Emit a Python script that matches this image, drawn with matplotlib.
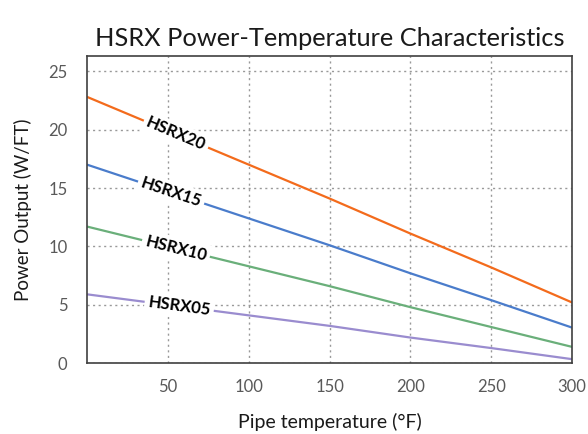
import numpy as np
import matplotlib
matplotlib.use("Agg")
import matplotlib.pyplot as plt

plt.rcParams['font.family'] = ['Lato', 'DejaVu Sans']

# pipe temperature (F) and power output (W/FT)
temps = [0, 50, 100, 150, 200, 250, 300]
hsrx20 = [22.8, 19.9, 17.0, 14.1, 11.1, 8.2, 5.2]
hsrx15 = [17.0, 14.7, 12.4, 10.1, 7.7, 5.4, 3.05]
hsrx10 = [11.7, 10.0, 8.3, 6.6, 4.8, 3.1, 1.4]
hsrx05 = [5.9, 5.0, 4.1, 3.2, 2.2, 1.3, 0.35]

names = ['HSRX20', 'HSRX15', 'HSRX10', 'HSRX05']
series = [hsrx20, hsrx15, hsrx10, hsrx05]
colors = ['#F36B1C', '#4A7CCB', '#6AAF7A', '#9A8CCF']
label_x = [55, 52, 55, 57]

x_ticks = [50, 100, 150, 200, 250, 300]
y_ticks = [0, 5, 10, 15, 20, 25]

fig = plt.figure(figsize=(5.88, 4.34), dpi=100)
ax = fig.add_axes([0.148, 0.163, 0.825, 0.708])

for name, vals, c in zip(names, series, colors):
    ax.plot(temps, vals, color=c, lw=1.6, solid_capstyle='butt')

ax.set_xlim(0, 300)
ax.set_ylim(0, 26.3)
ax.set_xticks(x_ticks)
ax.set_yticks(y_ticks)
ax.grid(True, color='#999999', linestyle=(0, (1.5, 2.5)), lw=1.0)
ax.tick_params(length=0, labelsize=12, labelcolor='#595959')
ax.tick_params(axis='x', pad=11)
ax.tick_params(axis='y', pad=14)
for s in ax.spines.values():
    s.set_color('#404040')
    s.set_linewidth(1.2)

ax.set_title('HSRX Power-Temperature Characteristics', fontsize=18.3,
             color='#1a1a1a', pad=7)
ax.set_xlabel('Pipe temperature (°F)', fontsize=14, color='#1a1a1a', labelpad=13)
ax.set_ylabel('Power Output (W/FT)', fontsize=13.5, color='#1a1a1a', labelpad=12)

fig.canvas.draw()
for name, vals, c, lx in zip(names, series, colors, label_x):
    ly = np.interp(lx, temps, vals)
    p0 = ax.transData.transform((temps[0], vals[0]))
    p1 = ax.transData.transform((temps[-1], vals[-1]))
    ang = np.degrees(np.arctan2(p1[1] - p0[1], p1[0] - p0[0]))
    ax.text(lx, ly, name, rotation=ang, rotation_mode='anchor',
            ha='center', va='center', fontsize=12, fontweight='bold',
            color='black',
            bbox=dict(boxstyle='square,pad=0.2', fc='white', ec='none'))

fig.savefig('out.png', dpi=100)
